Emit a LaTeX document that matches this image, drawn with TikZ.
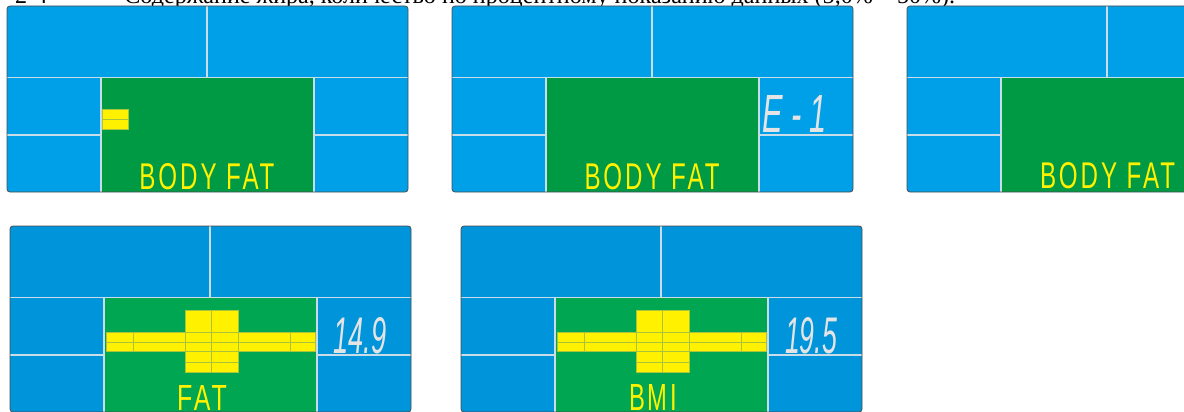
\documentclass[tikz,border=0pt]{standalone}
\usepackage{fontspec}
\setmainfont{Liberation Serif}
\newfontfamily\lcdfont[LetterSpace=12]{Liberation Sans}
\newfontfamily\digitfont{Liberation Sans}
\definecolor{bluetop}{HTML}{00A0E9}
\definecolor{bluebot}{HTML}{0094DA}
\definecolor{greentop}{HTML}{009944}
\definecolor{greenbot}{HTML}{00A651}
\definecolor{lcdyellow}{HTML}{FFF100}
\definecolor{gridline}{HTML}{A9C43A}
\definecolor{divcol}{HTML}{C9DDE8}
\definecolor{digitgrey}{HTML}{E4E4E4}
\tikzset{
  divider/.style={draw=divcol, line width=1.4pt},
  outline/.style={draw=black!70, line width=0.8pt},
  lcdtext/.style={inner sep=0pt, anchor=base, text=lcdyellow, font=\lcdfont},
  digittext/.style={inner sep=0pt, anchor=base, text=digitgrey, font=\digitfont\itshape},
}
\newcommand\lcdpanel[4]{%
  \begin{scope}[shift={(#1,#2)}]
    \fill[#3, rounded corners=3pt] (0,0) rectangle (401,186);
    \fill[#4] (94,71.5) rectangle (307,186);
    \draw[divider] (0,71.5) -- (401,71.5) (200,0) -- (200,71.5)
      (94,71.5) -- (94,186) (307,71.5) -- (307,186)
      (0,129) -- (94,129) (307,129) -- (401,129);
    \draw[outline, rounded corners=3pt] (0,0) rectangle (401,186);
  \end{scope}}
\newcommand\lcdbars[2]{%
  \begin{scope}[shift={(#1,#2)}]
    \fill[lcdyellow] (96,106) rectangle (305,125);
    \fill[lcdyellow] (175,84) rectangle (228,146);
    \draw[gridline, line width=0.8pt]
      (96,106) rectangle (305,125)
      (175,84) rectangle (228,146)
      (96,116) -- (305,116)
      (123,106) -- (123,125) (280,106) -- (280,125)
      (201,84) -- (201,146)
      (175,136) -- (228,136);
  \end{scope}}
\begin{document}
\begin{tikzpicture}[x=1pt,y=-1pt]
  \useasboundingbox (0,0) rectangle (1184,412);
  \clip (0,0) rectangle (1184,412);
  \node[inner sep=0pt, anchor=base west] (caption) at (15,4)
    {\resizebox{940pt}{!}{2-4\hspace{3.2em}Содержание жира, количество по процентному показанию данных (5,0\% – 50\%).}};
  % panel 1
  \lcdpanel{7}{6}{bluetop}{greentop}
  \fill[lcdyellow] (102,109) rectangle (128,129);
  \draw[gridline, line width=0.8pt] (102,109) rectangle (128,129) (102,119) -- (128,119);
  \node[lcdtext] (bf1) at (207,189) {\resizebox{135pt}{26pt}{BODY FAT}};
  % panel 2
  \lcdpanel{452}{6}{bluetop}{greentop}
  \node[lcdtext] (bf2) at (652,189) {\resizebox{135pt}{26pt}{BODY FAT}};
  \node[digittext] (err) at (794.5,132) {\resizebox{65pt}{37pt}{E - 1}};
  % panel 3
  \lcdpanel{907}{6}{bluetop}{greentop}
  \node[lcdtext] (bf3) at (1107.5,188) {\resizebox{135pt}{26pt}{BODY FAT}};
  % panel 4
  \lcdpanel{10}{226}{bluebot}{greenbot}
  \lcdbars{10}{226}
  \node[lcdtext] (fat) at (202,410) {\resizebox{50pt}{25pt}{FAT}};
  \node[digittext] (val1) at (360,353) {\resizebox{53pt}{36pt}{14.9}};
  % panel 5
  \lcdpanel{461}{226}{bluebot}{greenbot}
  \lcdbars{461}{226}
  \node[lcdtext] (bmi) at (653,410) {\resizebox{48pt}{26pt}{BMI}};
  \node[digittext] (val2) at (811,353) {\resizebox{52pt}{36pt}{19.5}};
\end{tikzpicture}
\end{document}
